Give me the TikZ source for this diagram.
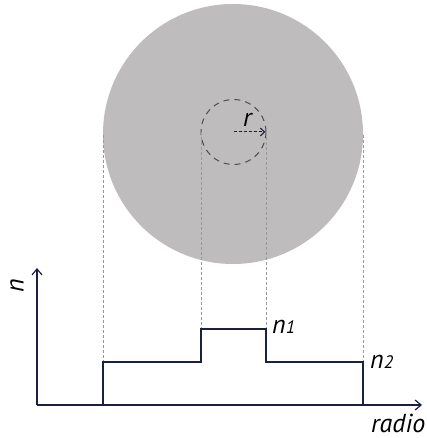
\documentclass[tikz,border=0pt]{standalone}
\usepackage{fontspec}
\setmainfont{PT Sans}
\usetikzlibrary{arrows.meta}
\definecolor{navy}{RGB}{26,32,64}
\definecolor{fibergray}{RGB}{190,188,189}
\newcommand{\lblfont}{\fontsize{26pt}{28pt}\selectfont\itshape}
\newcommand{\idxfont}{\fontsize{18pt}{20pt}\selectfont\itshape}
\begin{document}
\begin{tikzpicture}[x=1pt, y=-1pt, line join=miter,
  guide/.style={gray!80, dash pattern=on 3pt off 2pt, line width=0.6pt},
  axis/.style={navy, line width=1.4pt, -{Straight Barb[length=6pt, width=10pt, line width=1.2pt]}},
  profile/.style={navy, line width=1.4pt},
  lbl/.style={font=\lblfont, inner sep=0pt}]
\useasboundingbox (0,0) rectangle (427,438);

% fibre cross section
\fill[fibergray] (233,134) circle (130);
\draw[gray!60!black, dash pattern=on 6pt off 5pt, line width=1pt] (233.5,132) circle (32.5);
\draw[navy, dash pattern=on 3pt off 2pt, line width=1pt, -{Straight Barb[length=4pt, width=8pt]}] (233.5,132) -- (265,132);
\node[lbl, anchor=base west] (r) at (243,127) {r};

% guide lines
\draw[guide] (103,135) -- (103,362);
\draw[guide] (201,132) -- (201,329);
\draw[guide] (266,132) -- (266,329);
\draw[guide] (363,135) -- (363,362);

% axes
\coordinate (O) at (37,405);
\draw[axis] (O) -- (37,268);
\draw[axis] (O) -- (422,405);
\node[lbl, rotate=90] (n) at (17,286) {n};
\node[lbl, anchor=base west] (radio) at (371,432) {radio};

% index profile
\draw[profile] (103,405) -- (103,362) -- (201,362) -- (201,329) -- (266,329)
  -- (266,362) -- (363,362) -- (363,405);
\node[lbl, anchor=base west] (n1) at (272,333) {n{\idxfont 1}};
\node[lbl, anchor=base west] (n2) at (370,368) {n{\idxfont 2}};
\end{tikzpicture}
\end{document}
